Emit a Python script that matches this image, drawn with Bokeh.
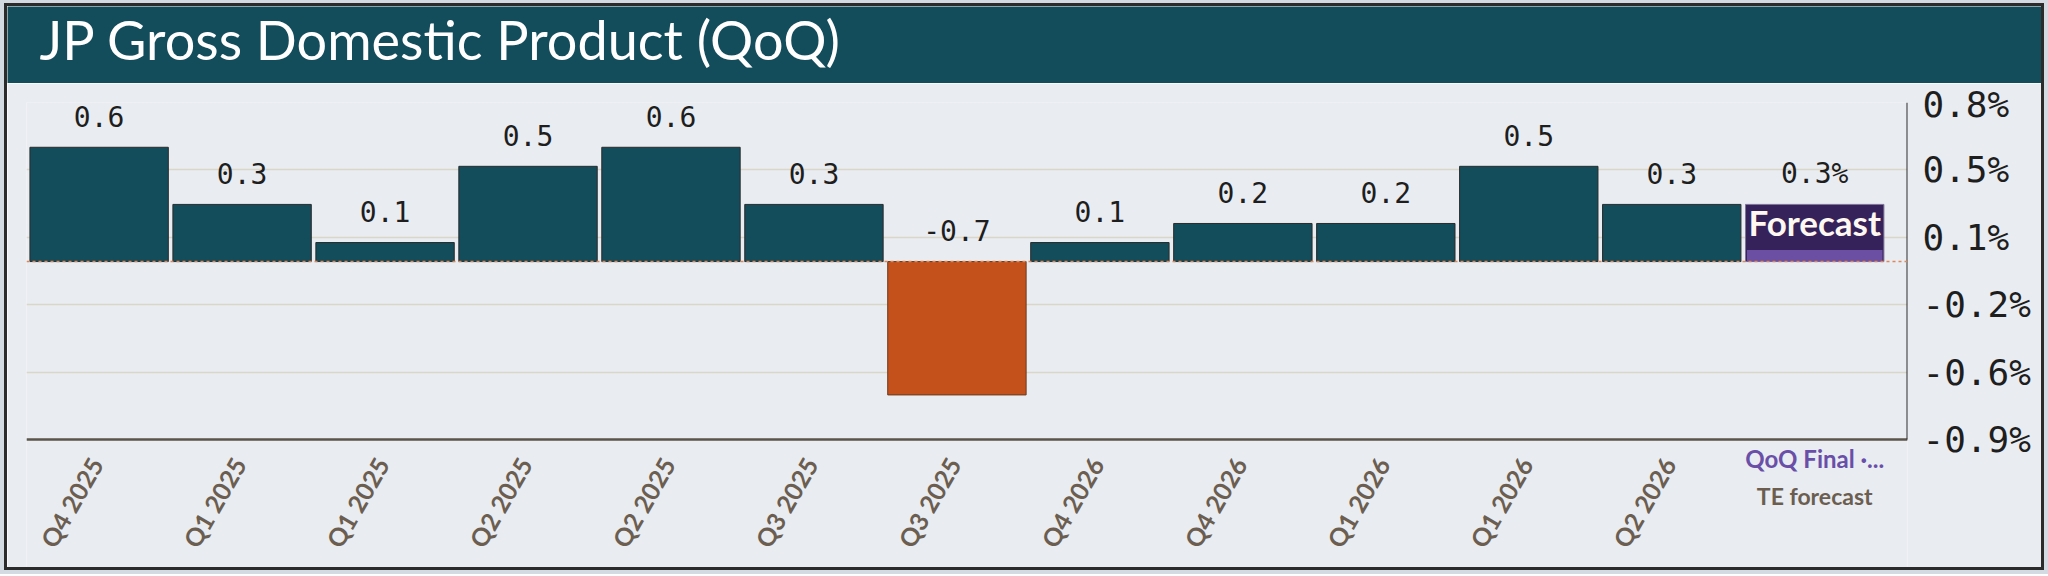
import math

from bokeh.plotting import figure
from bokeh.models import ColumnDataSource, Range1d, FixedTicker, Span, Label
from bokeh.layouts import column
from bokeh.core.properties import value
from bokeh.embed import file_html
from bokeh.resources import INLINE

title = "JP Gross Domestic Product (QoQ)"

# quarter labels as printed under the bars (they repeat in the source chart)
quarters = ["Q4 2025", "Q1 2025", "Q1 2025", "Q2 2025", "Q2 2025", "Q3 2025",
            "Q3 2025", "Q4 2026", "Q4 2026", "Q1 2026", "Q1 2026", "Q2 2026"]
gdp_qoq = [0.6, 0.3, 0.1, 0.5, 0.6, 0.3, -0.7, 0.1, 0.2, 0.2, 0.5, 0.3]

forecast_value = 0.3
forecast_name = "QoQ Final ·..."
forecast_source = "TE forecast"

# right axis ticks sit on evenly spaced, un-rounded values
y_ticks = [0.835, 0.481, 0.128, -0.226, -0.580, -0.934]
y_tick_labels = ["0.8%", "0.5%", "0.1%", "-0.2%", "-0.6%", "-0.9%"]

TEAL = "#134c5b"
RUST = "#c4511b"
BG = "#e9ecf1"
INK = "#1e1e1e"
TICK_BROWN = "#6b5e50"
PURPLE_DARK = "#35225b"
PURPLE_LIGHT = "#6a4fa3"
SANS = "Lato"
MONO = "DejaVu Sans Mono"

W = 2034
HEAD_H = 77
LEFT, RIGHT, TOP = 19, 134, 19
FRAME_W, FRAME_H = 1881, 465
AXIS_H = 337          # height of the part of the frame that holds the bars
BAR_W = 0.968

# ---- header band
head = figure(width=W, height=HEAD_H, x_range=Range1d(0, W), y_range=Range1d(0, HEAD_H),
              x_axis_location=None, y_axis_location=None,
              toolbar_location=None, output_backend="svg",
              background_fill_color=TEAL, border_fill_color=TEAL,
              outline_line_color=None, min_border=0)
head.frame_align = False   # keep the band's frame over the whole width
head.grid.visible = False
head.add_layout(Label(x=32, y=44, text=title, text_font=SANS, text_font_size="54px",
                      text_color="#ffffff", text_baseline="middle"))

# ---- bar chart
xs = list(range(len(quarters)))
forecast_x = len(quarters)

y_hi, y_lo = y_ticks[0], y_ticks[-1]
px_per_unit = AXIS_H / (y_hi - y_lo)
y_bottom = y_lo - (FRAME_H - AXIS_H) / px_per_unit
x_start, x_end = -0.508, 12.649

p = figure(frame_width=FRAME_W, frame_height=FRAME_H,
           x_range=Range1d(x_start, x_end), y_range=Range1d(y_bottom, y_hi),
           x_axis_location=None, y_axis_location="right",
           toolbar_location=None, output_backend="svg",
           background_fill_color=BG, border_fill_color=BG, outline_line_color=None)
p.min_border = 0
p.min_border_left = LEFT
p.min_border_right = RIGHT
p.min_border_top = TOP

p.ygrid.ticker = FixedTicker(ticks=y_ticks)
p.ygrid.grid_line_color = "#dcd5c9"
p.ygrid.grid_line_width = 1.5
p.xgrid.grid_line_color = None

src = ColumnDataSource(dict(
    x=xs,
    top=gdp_qoq,
    fill=[TEAL if v >= 0 else RUST for v in gdp_qoq],
    line=["#2b2b2b" if v >= 0 else "#6b3a1a" for v in gdp_qoq],
))
p.vbar(x="x", top="top", bottom=0, width=BAR_W, fill_color="fill",
       line_color="line", line_width=1, source=src)

# forecast bar: dark purple with a lighter strip at its foot
band_h = 11.5 / px_per_unit
p.vbar(x=[forecast_x], top=[forecast_value], bottom=0, width=BAR_W,
       fill_color=PURPLE_DARK, line_color="#7e7496", line_width=1)
p.vbar(x=[forecast_x], top=[band_h], bottom=0, width=BAR_W - 0.02,
       fill_color=PURPLE_LIGHT, line_color=None)
p.text(x=[forecast_x], y=[(forecast_value + band_h) / 2], text=["Forecast"], y_offset=-5,
       text_font=value(SANS), text_font_style="bold", text_font_size="35px",
       text_color="#fff8f0", text_align="center", text_baseline="middle")

# value labels above each bar (negative one sits above the zero line)
lab_x = xs + [forecast_x]
lab_y = [max(v, 0) for v in gdp_qoq] + [forecast_value]
lab_t = [f"{v:.1f}" for v in gdp_qoq] + [f"{forecast_value:.1f}%"]
p.text(x=lab_x, y=lab_y, text=lab_t, text_font=value(MONO), text_font_size="28px",
       text_color=INK, text_align="center", text_baseline="middle", y_offset=-31)

p.add_layout(Span(location=0, dimension="width", line_color="#e0875a",
                  line_dash="3 3", line_width=1.5))

# axis lines drawn by hand so the frame can reach down under the labels
p.segment(x0=[x_start], y0=[y_lo], x1=[x_end], y1=[y_lo], line_color="#5b544b", line_width=2.5)
p.segment(x0=[x_end], y0=[y_lo], x1=[x_end], y1=[y_hi], line_color="#2b2b2b", line_width=2)

# right axis labels
p.yaxis.ticker = FixedTicker(ticks=y_ticks)
p.yaxis.major_label_overrides = dict(zip(y_ticks, y_tick_labels))
p.yaxis.major_label_text_font = MONO
p.yaxis.major_label_text_font_size = "36px"
p.yaxis.major_label_text_color = INK
p.yaxis.major_label_standoff = 9
p.yaxis.major_tick_line_color = None
p.yaxis.minor_tick_line_color = None
p.yaxis.axis_line_color = None

# quarter labels under the axis line
p.text(x=xs, y=[y_lo] * len(xs), text=quarters, angle=math.pi / 3,
       text_font=value(SANS), text_font_style="bold", text_font_size="25px",
       text_color=TICK_BROWN, text_align="right", text_baseline="middle",
       x_offset=-3, y_offset=20)

p.text(x=[forecast_x], y=[y_lo], text=[forecast_name], y_offset=19,
       text_font=value(SANS), text_font_style="bold", text_font_size="24px",
       text_color="#6a4fa8", text_align="center", text_baseline="middle")
p.text(x=[forecast_x], y=[y_lo], text=[forecast_source], y_offset=56,
       text_font=value(SANS), text_font_style="bold", text_font_size="23px",
       text_color=TICK_BROWN, text_align="center", text_baseline="middle")

page = column(head, p, spacing=0,
              styles={"margin": "6px 0 0 7px", "outline": "3px solid #2b2b2b",
                      "box-shadow": "0 0 0 7px #d3dae2"})

open("out.html", "w").write(file_html(page, INLINE))
